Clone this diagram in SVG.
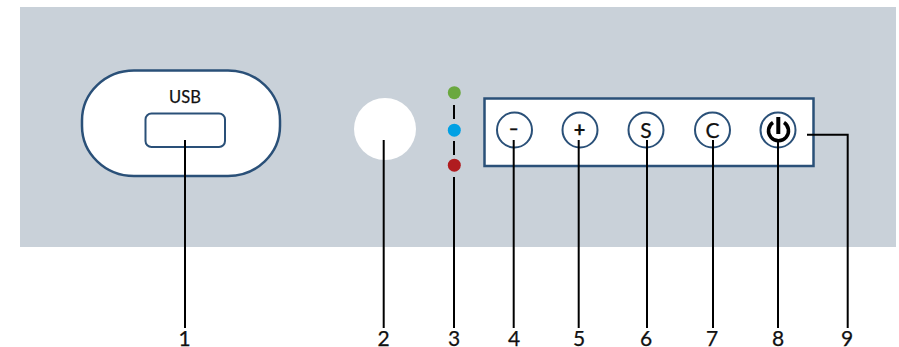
<svg xmlns="http://www.w3.org/2000/svg" width="899" height="347" viewBox="0 0 899 347">
<style>
.o{fill:#fff;stroke:#2a5078}
.l{fill:none;stroke:#000;stroke-width:2}
text{font-family:Lato,"Noto Sans",sans-serif;fill:#111;text-anchor:middle;stroke:#111;stroke-width:.25}
.n{font-size:21px}
.b{font-size:21px}
</style>
<rect id="panel-bg" x="20" y="7" width="876" height="240" fill="#c9d1d9"/>
<g id="usb">
<rect class="o" x="82" y="70.500" width="198" height="105.500" rx="52" ry="50" stroke-width="2.500"/>
<rect class="o" x="145.500" y="113.500" width="79.500" height="33.500" rx="6" stroke-width="2"/>
<text x="185" y="103" font-size="16.500px">USB</text>
</g>
<g id="sensor"><circle cx="385" cy="129" r="31" fill="#fff"/></g>
<g id="leds">
<circle cx="454.300" cy="92.700" r="6.500" fill="#6aa83f"/>
<circle cx="454.300" cy="130.200" r="6.500" fill="#00a0e4"/>
<circle cx="454.300" cy="165.200" r="6.500" fill="#b01c1f"/>
</g>
<g id="button-panel"><rect class="o" x="484.500" y="98.500" width="329" height="67.500" stroke-width="2.500"/></g>
<g id="btn-minus"><circle class="o" cx="514.500" cy="130" r="17.500" stroke-width="2"/><text x="513.800" y="134" font-size="17px" font-weight="700">–</text></g>
<g id="btn-plus"><circle class="o" cx="580" cy="130" r="17.500" stroke-width="2"/><text x="579.500" y="136.500" font-size="20px" font-weight="700">+</text></g>
<g id="btn-s"><circle class="o" cx="646" cy="130" r="17.500" stroke-width="2"/><text class="b" x="646" y="137.500">S</text></g>
<g id="btn-c"><circle class="o" cx="712.500" cy="130" r="17.500" stroke-width="2"/><text class="b" x="712.500" y="137.500">C</text></g>
<g id="btn-power"><circle class="o" cx="778" cy="130" r="17.500" stroke-width="2"/>
<path d="M773 122.500A10 10 0 1 0 784 122.500" fill="none" stroke="#000" stroke-width="3.500"/><path d="M778.300 117V134" fill="none" stroke="#000" stroke-width="4"/></g>
<g id="connectors">
<path class="l" d="M185 140V328"/>
<path class="l" d="M383.700 140V328"/>
<path class="l" d="M454 105V119M454 141V155M454 177V328"/>
<path class="l" d="M513.700 140V328"/>
<path class="l" d="M578.700 140V328"/>
<path class="l" d="M647 140V328"/>
<path class="l" d="M713 140V328"/>
<path class="l" d="M778 140V328"/>
<path class="l" d="M807 134.700H847.700V328"/>
</g>
<g id="labels">
<text class="n" x="184.500" y="346">1</text>
<text class="n" x="383.500" y="346">2</text>
<text class="n" x="454" y="346">3</text>
<text class="n" x="514" y="346">4</text>
<text class="n" x="579" y="346">5</text>
<text class="n" x="646" y="346">6</text>
<text class="n" x="712" y="346">7</text>
<text class="n" x="778" y="346">8</text>
<text class="n" x="847" y="346">9</text>
</g>
</svg>
